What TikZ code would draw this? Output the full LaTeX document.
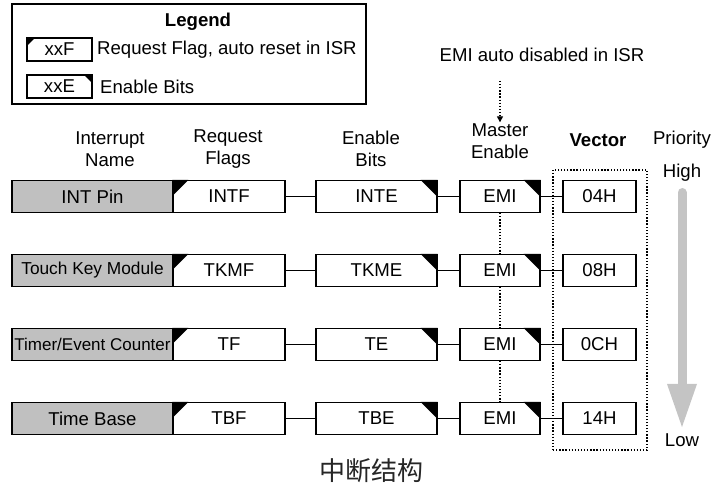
\documentclass[tikz,border=0pt]{standalone}
\usepackage{fontspec}
\setmainfont{Liberation Sans}
\newfontfamily\cjk{Noto Sans CJK SC}
\usetikzlibrary{arrows.meta}
\definecolor{srcgray}{RGB}{192,192,192}
\definecolor{prigray}{RGB}{196,196,196}

\begin{document}
\begin{tikzpicture}[x=1pt,y=-1pt,
  txt/.style={font=\fontsize{18.6}{22}\selectfont, align=center, inner sep=0pt},
  box/.style={draw, line width=1.2pt, minimum height=32pt, inner sep=0pt,
    font=\fontsize{18.6}{22}\selectfont},
  srcbox/.style={box, fill=srcgray, minimum width=161pt},
  legbox/.style={draw, line width=1.2pt, minimum width=65pt, minimum height=23pt, inner sep=0pt,
    font=\fontsize{18.6}{22}\selectfont},
  link/.style={line width=1.2pt},
  dots/.style={line width=1.3pt, dash pattern=on 1.3pt off 1.8pt},
]
\useasboundingbox (0,0) rectangle (713,489);

% legend
\node[draw, line width=1.2pt, minimum width=354pt, minimum height=100pt, inner sep=0pt] (legend) at (189,54) {};
\node[txt, font=\bfseries\fontsize{18.6}{22}\selectfont] (legtitle) at (198,22) {Legend};
\node[legbox] (legF) at (59.5,49.5) {xxF};
\fill (legF.north west) -- ++(9,0) -- ++(-9,9) -- cycle;
\node[txt, anchor=west] (legFtext) at (97,49.5) {Request Flag, auto reset in ISR};
\node[legbox] (legE) at (59.5,86.5) {xxE};
\fill (legE.north east) -- ++(-9,0) -- ++(9,9) -- cycle;
\node[txt, anchor=west] (legEtext) at (100,86.5) {Enable Bits};

% column headings
\node[txt] (hname) at (110,149) {Interrupt\\Name};
\node[txt] (hflag) at (228,149) {Request\\Flags};
\node[txt] (hen) at (371,149) {Enable\\Bits};
\node[txt] (hmaster) at (500,141) {Master\\Enable};
\node[txt, font=\bfseries\fontsize{18.6}{22}\selectfont] (hvec) at (598,140) {Vector};
\node[txt] (hpri) at (682,140) {Priority};
\node[txt] (hhigh) at (682,173) {High};
\node[txt] (hlow) at (682,440) {Low};

% note on EMI
\node[txt] (note) at (542,55) {EMI auto disabled in ISR};
\coordinate (notefoot) at (500,81);
\draw[dots, -{Triangle[length=6pt,width=6pt]}] (notefoot) -- ([yshift=1pt]hmaster.north);

% vector frame
\node[draw, dots, minimum width=94pt, minimum height=280pt, inner sep=0pt] (vecframe) at (600,310) {};

% interrupt rows
\foreach \i/\y/\src/\fs/\fl/\en/\vc in {
  1/196.5/INT Pin/18.6/INTF/INTE/04H,
  2/270.5/Touch Key Module/17.3/TKMF/TKME/08H,
  3/344.5/{Timer/Event Counter}/17/TF/TE/0CH,
  4/418.5/Time Base/18.6/TBF/TBE/14H}{
  \node[srcbox, font=\fontsize{\fs}{22}\selectfont] (s\i) at (92.5,\y) {\src};
  \node[box, minimum width=112pt] (f\i) at (229,\y) {\fl};
  \node[box, minimum width=121pt] (e\i) at (376.5,\y) {\en};
  \node[box, minimum width=80pt] (m\i) at (500,\y) {EMI};
  \node[box, minimum width=73pt] (v\i) at (599.5,\y) {\vc};
  % flag corner marks: top left for request flags, top right for enable bits
  \fill (f\i.north west) -- ++(16,0) -- ++(-16,16) -- cycle;
  \fill (e\i.north east) -- ++(-17,0) -- ++(17,17) -- cycle;
  \fill (m\i.north east) -- ++(-17,0) -- ++(17,17) -- cycle;
  \draw[link] (f\i.east) -- (e\i.west);
  \draw[link] (e\i.east) -- (m\i.west);
  \draw[link] (m\i.east) -- (v\i.west);
}
\draw[dots] (m1.south) -- (m2.north);
\draw[dots] (m2.south) -- (m3.north);
\draw[dots] (m3.south) -- (m4.north);

% priority arrow
\coordinate (pritop) at (682,192.5);
\coordinate (prineck) at (682,384);
\coordinate (pritip) at (682,427);
\draw[prigray, line width=9pt, line cap=round] (pritop) -- (prineck);
\fill[prigray] ([xshift=-15pt]prineck) -- ([xshift=15pt]prineck) -- (pritip) -- cycle;

% caption
\node[font=\cjk\fontsize{26}{30}\selectfont, text=black!85, inner sep=0pt] (caption) at (371,471) {中断结构};
\end{tikzpicture}
\end{document}
